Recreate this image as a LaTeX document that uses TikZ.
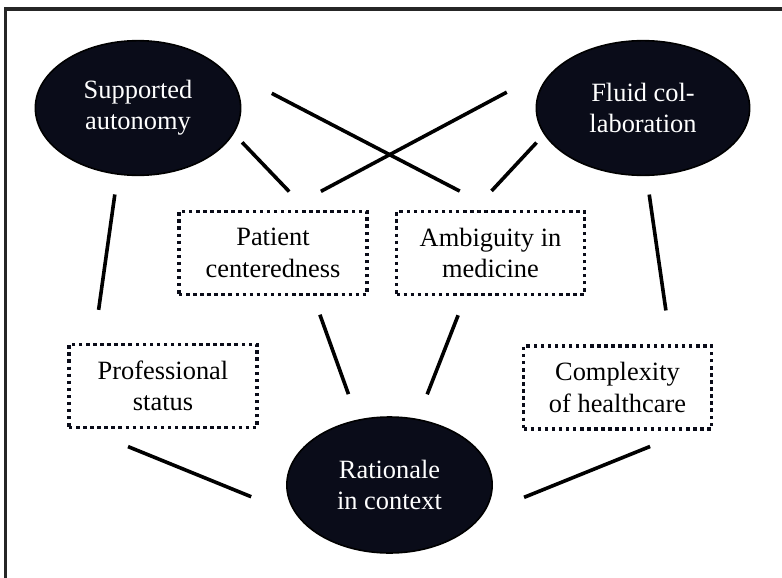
\documentclass[tikz,border=0pt]{standalone}
\usepackage{fontspec}
\setmainfont{Liberation Serif}
\usepackage{tikz}
\usetikzlibrary{shapes.geometric}
\definecolor{ovalfill}{RGB}{10,12,25}

\begin{document}
\begin{tikzpicture}
	[x=0.75pt, y=-0.75pt, align=center, font=\fontsize{19.8}{23.5}\selectfont,
	oval/.style ={ellipse, draw=black, line width=1.2pt, fill=ovalfill, text=white, minimum width=154pt, minimum height=101pt, inner sep=0pt},
	factor/.style ={rectangle, draw=ovalfill, line width=2.7pt, dash pattern=on 2.6pt off 2.7pt, minimum width=141pt, minimum height=62pt, inner sep=0pt},
	link/.style ={line width=2.7pt}];
	\useasboundingbox (0,0) rectangle (782,578);
	\draw [line width=2.4pt, draw=black!85] (5.5,9) rectangle (800,600);
	% the three themes
	\node [oval] (supported) at (138,108) {Supported\\autonomy};
	\node [oval, minimum width=160pt] (fluid) at (643,108) {Fluid col-\\laboration};
	\node [oval, minimum height=102pt] (rationale) at (389.5,485) {Rationale\\in context};
	% the factors
	\node [factor] (patient) at (273,253) {Patient\\centeredness};
	\node [factor] (ambiguity) at (490.5,253) {Ambiguity in\\medicine};
	\node [factor] (professional) at (163,386) {Professional\\status};
	\node [factor] (complexity) at (617.5,387.5) {Complexity\\of healthcare};
	% links
	\draw [link, shorten <=9pt, shorten >=19pt] (supported.-15.5) -- (patient.52);
	\draw [link, shorten <=43.9pt, shorten >=30.5pt] (supported.27.8) -- (ambiguity.83.9);
	\draw [link, shorten <=49.5pt, shorten >=29.5pt] (fluid.149.4) -- (patient.73.5);
	\draw [link, shorten <=8.25pt, shorten >=19.4pt] (fluid.195.4) -- (ambiguity.111.3);
	\draw [link, shorten <=14.9pt, shorten >=25pt] (supported.253.8) -- (professional.148.1);
	\draw [link, shorten <=14pt, shorten >=25.7pt] (fluid.-87.9) -- (complexity.39.8);
	\draw [link, shorten <=14.8pt, shorten >=20.25pt] (patient.-47.4) -- (rationale.116.5);
	\draw [link, shorten <=15.4pt, shorten >=19.7pt] (ambiguity.240.8) -- (rationale.67.1);
	\draw [link, shorten <=34.7pt, shorten >=36.75pt] (professional.209.7) -- (rationale.198.8);
	\draw [link, shorten <=31.7pt, shorten >=32.8pt] (complexity.-31.4) -- (rationale.-17);
\end{tikzpicture}
\end{document}
